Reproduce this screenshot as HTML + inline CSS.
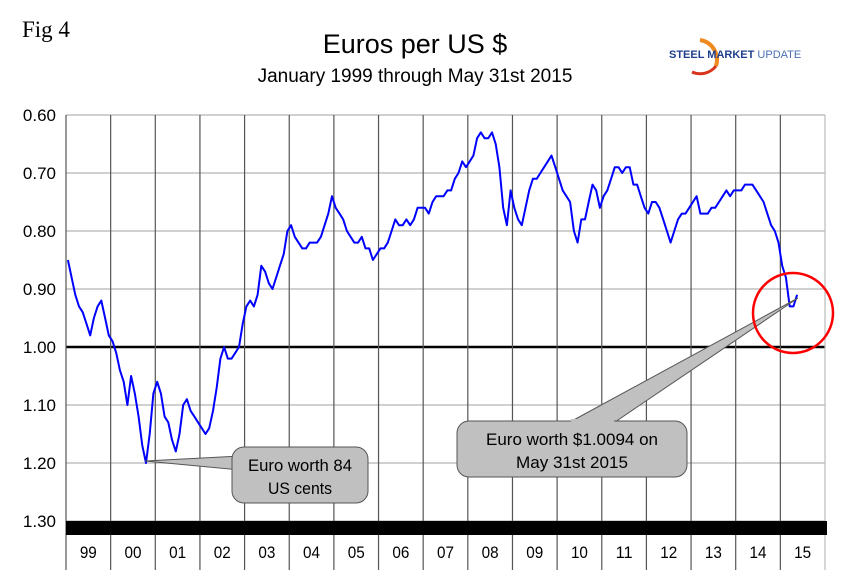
<!DOCTYPE html>
<html><head><meta charset="utf-8"><style>
body{margin:0;background:#fff;}
svg{display:block;font-family:"Liberation Sans",Arial,sans-serif;}
</style></head><body>
<svg id="chart" width="848" height="578" viewBox="0 0 848 578">
<text x="22" y="37" font-family="Liberation Serif, serif" font-size="23">Fig 4</text>
<text x="415" y="53" text-anchor="middle" font-size="27">Euros per US $</text>
<text x="415" y="82" text-anchor="middle" font-size="19">January 1999 through May 31st 2015</text>
<g>
<path d="M700,40 A20,20 0 0 1 716,66" stroke="#f08a1e" stroke-width="4" fill="none"/>
<path d="M716,66 A20,20 0 0 1 692,72" stroke="#d8341c" stroke-width="3" fill="none"/>
<text x="669" y="58" font-size="11" font-weight="bold" fill="#1f3f8f">STEEL MARKET <tspan font-weight="normal" fill="#4a6fb5">UPDATE</tspan></text>
</g>
<g id="grid"></g>
<g id="axes"></g>
<polyline id="series" fill="none" stroke="#0000ff" stroke-width="2" stroke-linejoin="round"/>
<g>
<path d="M145,461 L240,456 L240,470 Z" fill="#c0c0c0" stroke="#555" stroke-width="1"/>
<rect x="232" y="447" width="136" height="56" rx="12" fill="#c0c0c0" stroke="#555" stroke-width="1"/>
<text x="300" y="471" text-anchor="middle" font-size="17" textLength="104" lengthAdjust="spacingAndGlyphs">Euro worth 84</text>
<text x="300" y="494" text-anchor="middle" font-size="17" textLength="64" lengthAdjust="spacingAndGlyphs">US cents</text>
</g>
<g>
<path d="M798,298 L570,422 L615,422 Z" fill="#c0c0c0" stroke="#555" stroke-width="1"/>
<rect x="457" y="421" width="230" height="56" rx="12" fill="#c0c0c0" stroke="#555" stroke-width="1"/>
<rect x="571" y="419" width="43" height="4" fill="#c0c0c0"/>
<text x="572" y="445" text-anchor="middle" font-size="17" textLength="172" lengthAdjust="spacingAndGlyphs">Euro worth $1.0094 on</text>
<text x="572" y="468" text-anchor="middle" font-size="17" textLength="112" lengthAdjust="spacingAndGlyphs">May 31st 2015</text>
</g>
<circle cx="793" cy="313" r="40" fill="none" stroke="#ff0000" stroke-width="2.5"/>
</svg>
<script>
const years = ["99","00","01","02","03","04","05","06","07","08","09","10","11","12","13","14","15"];
const yTicks = [0.60,0.70,0.80,0.90,1.00,1.10,1.20,1.30];
const v1999 = [0.85,0.88,0.91,0.93,0.94,0.96,0.98,0.95,0.93,0.92,0.95,0.98];
const v2000 = [0.99,1.01,1.04,1.06,1.10,1.05,1.08,1.12,1.17,1.20,1.15,1.08];
const v2001 = [1.06,1.08,1.12,1.13,1.16,1.18,1.15,1.10,1.09,1.11,1.12,1.13];
const v2002 = [1.14,1.15,1.14,1.11,1.07,1.02,1.00,1.02,1.02,1.01,1.00,0.96];
const v2003 = [0.93,0.92,0.93,0.91,0.86,0.87,0.89,0.90,0.88,0.86,0.84,0.80];
const v2004 = [0.79,0.81,0.82,0.83,0.83,0.82,0.82,0.82,0.81,0.79,0.77,0.74];
const v2005 = [0.76,0.77,0.78,0.80,0.81,0.82,0.82,0.81,0.83,0.83,0.85,0.84];
const v2006 = [0.83,0.83,0.82,0.80,0.78,0.79,0.79,0.78,0.79,0.78,0.76,0.76];
const v2007 = [0.76,0.77,0.75,0.74,0.74,0.74,0.73,0.73,0.71,0.70,0.68,0.69];
const v2008 = [0.68,0.67,0.64,0.63,0.64,0.64,0.63,0.65,0.69,0.76,0.79,0.73];
const v2009 = [0.76,0.78,0.79,0.76,0.73,0.71,0.71,0.70,0.69,0.68,0.67,0.69];
const v2010 = [0.71,0.73,0.74,0.75,0.80,0.82,0.78,0.78,0.75,0.72,0.73,0.76];
const v2011 = [0.74,0.73,0.71,0.69,0.69,0.70,0.69,0.69,0.72,0.72,0.74,0.76];
const v2012 = [0.77,0.75,0.75,0.76,0.78,0.80,0.82,0.80,0.78,0.77,0.77,0.76];
const v2013 = [0.75,0.74,0.77,0.77,0.77,0.76,0.76,0.75,0.74,0.73,0.74,0.73];
const v2014 = [0.73,0.73,0.72,0.72,0.72,0.73,0.74,0.75,0.77,0.79,0.80,0.82];
const v2015 = [0.86,0.88,0.93,0.93,0.91];
const monthly = [v1999,v2000,v2001,v2002,v2003,v2004,v2005,v2006,v2007,v2008,v2009,v2010,v2011,v2012,v2013,v2014,v2015];

const L=66,R=825,T=115,B=521;
function xs(t){return L+(t-1999)/17*(R-L);}
function ys(v){return T+(v-0.6)/0.7*(B-T);}
const NS="http://www.w3.org/2000/svg";
const grid=document.getElementById('grid'), axes=document.getElementById('axes');
function mk(tag,attrs,parent){const e=document.createElementNS(NS,tag);for(const k in attrs)e.setAttribute(k,attrs[k]);parent.appendChild(e);return e;}
yTicks.forEach(v=>{
  const y=ys(v);
  const isOne=Math.abs(v-1)<1e-9;
  const ln=mk('line',{x1:L,x2:R,y1:y,y2:y,stroke:isOne?'#000':'#c0c0c0','stroke-width':isOne?2.5:1.5},grid);
  
  
  const t=mk('text',{x:56,y:y+6,'text-anchor':'end','font-size':17},axes);
  t.textContent=v.toFixed(2);
  
  
});
for(let i=0;i<=years.length;i++){
  const x=xs(1999+i);
  const ln=mk('line',{x1:x,x2:x,y1:T,y2:570,stroke:i==years.length?'#bbb':'#555','stroke-width':1.2},grid);
  
  
}
const bar=mk('rect',{x:L,y:B,width:R-L+2,height:14,fill:'#000'},axes);


years.forEach((yr,i)=>{
  const t=mk('text',{x:xs(1999+i+0.5),y:558,'text-anchor':'middle','font-size':17,textLength:17,lengthAdjust:'spacingAndGlyphs'},axes);
  t.textContent=yr;
  
  
});
const pts=[];
monthly.forEach((arr,yi)=>{arr.forEach((v,mi)=>{pts.push(xs(1999+yi+(mi+0.5)/12).toFixed(1)+','+ys(v).toFixed(1));});});
document.getElementById('series').setAttribute('points',pts.join(' '));
</script>
</body></html>
